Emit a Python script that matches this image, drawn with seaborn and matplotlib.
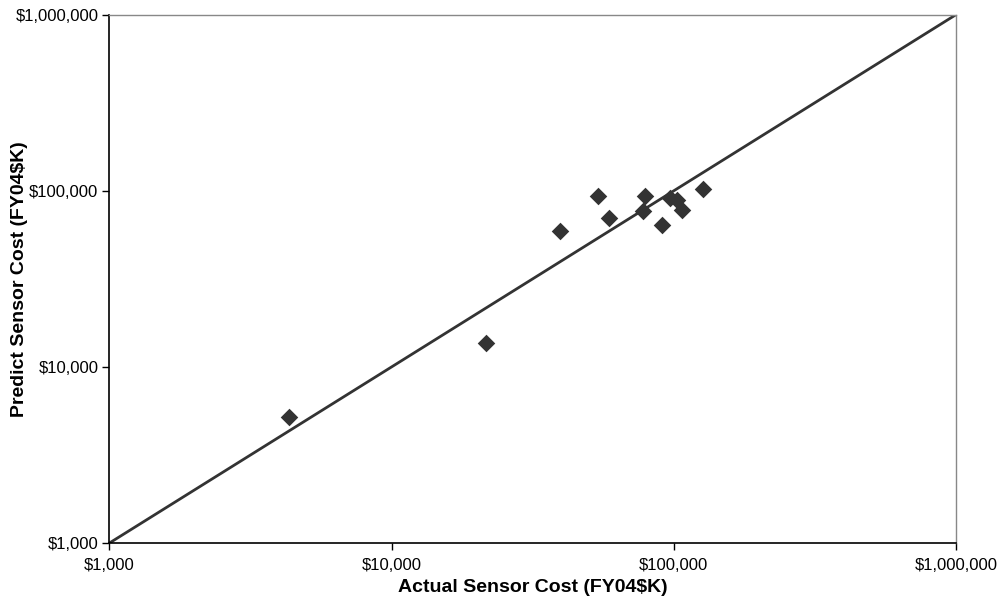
import seaborn as sns
import pandas as pd
import matplotlib.pyplot as plt
from matplotlib.ticker import FuncFormatter, NullLocator

# actual vs predicted sensor cost (FY04$K)
actual = [4330, 21600, 39500, 53800, 58900, 79000, 77700, 90700, 97000, 103000, 106900, 127000]
predicted = [5200, 13700, 59100, 93400, 70100, 93400, 76800, 63900, 91500, 89000, 77800, 102400]
diag = [1000, 1000000]
ticks = [1000, 10000, 100000, 1000000]

df = pd.DataFrame({'actual': actual, 'predicted': predicted})
line = pd.DataFrame({'x': diag, 'y': diag})

sns.set_style("white")
plt.rcParams['font.family'] = ['Liberation Sans', 'DejaVu Sans']
plt.rcParams['text.color'] = 'black'
plt.rcParams['axes.labelcolor'] = 'black'
plt.rcParams['xtick.color'] = 'black'
plt.rcParams['ytick.color'] = 'black'

fig = plt.figure(figsize=(9.97, 6), dpi=100)
ax = fig.add_axes([0.1098, 0.095, 0.849, 0.8805])

sns.lineplot(data=line, x='x', y='y', color='#333333', linewidth=2, ax=ax)
sns.scatterplot(data=df, x='actual', y='predicted', marker='D', s=80,
                color='#333333', edgecolor='#333333', linewidth=0, ax=ax, zorder=3)

ax.set_xscale('log')
ax.set_yscale('log')
ax.set_xlim(1000, 1000000)
ax.set_ylim(1000, 1000000)
ax.set_xticks(ticks)
ax.set_yticks(ticks)
ax.xaxis.set_minor_locator(NullLocator())
ax.yaxis.set_minor_locator(NullLocator())
fmt = FuncFormatter(lambda v, p: '${:,.0f}'.format(v))
ax.xaxis.set_major_formatter(fmt)
ax.yaxis.set_major_formatter(fmt)
ax.tick_params(axis='both', which='major', direction='out', length=5, width=1,
               color='black', labelcolor='black', labelsize=12, left=True, bottom=True)
ax.tick_params(axis='x', pad=6)
ax.tick_params(axis='y', pad=3)

for side in ['left', 'bottom']:
    ax.spines[side].set_color('black')
    ax.spines[side].set_linewidth(1.2)
for side in ['top', 'right']:
    ax.spines[side].set_color('#888888')
    ax.spines[side].set_linewidth(1)

ax.set_xlabel("Actual Sensor Cost (FY04$K)", fontsize=14, fontweight='bold', color='black')
ax.set_ylabel("Predict Sensor Cost (FY04$K)", fontsize=14, fontweight='bold', color='black')
ax.xaxis.set_label_coords(0.5, -0.068)
ax.yaxis.set_label_coords(-0.0965, 0.5)
ax.grid(False)

fig.savefig('out.png', dpi=100)
